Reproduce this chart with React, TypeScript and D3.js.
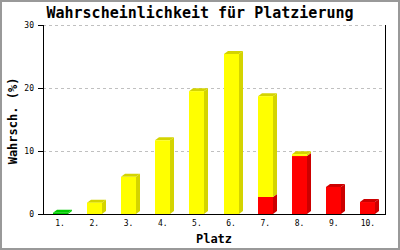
import React from "react";
import * as d3 from "d3";

const categories = ["1.", "2.", "3.", "4.", "5.", "6.", "7.", "8.", "9.", "10."];
const greenValues = [0.2, 0, 0, 0, 0, 0, 0, 0, 0, 0];
const redValues = [0, 0, 0, 0, 0, 0, 2.7, 9.2, 4.3, 1.9];
const yellowValues = [0, 1.8, 5.9, 11.7, 19.5, 25.4, 16.0, 0.3, 0, 0];
const yTicks = [0, 10, 20, 30];
const seriesKeys = ["green", "red", "yellow"];

const W = 400;
const H = 250;
const left = 43;
const right = 385;
const top = 25;
const bottom = 214;
const barW = 15;
const dx = 4;
const dy = 3;

const colors: Record<string, { front: string; side: string }> = {
  green: { front: "#00cc00", side: "#00cc00" },
  red: { front: "#ff0000", side: "#cc0000" },
  yellow: { front: "#ffff00", side: "#d4d400" },
};

const mono = "'DejaVu Sans Mono', 'Liberation Mono', monospace";

export default function App() {
  const x = d3.scaleBand<string>().domain(categories).range([left, right]).padding(0);
  const y = d3.scaleLinear().domain([0, 30]).range([bottom, top]);

  const rows = categories.map((c, i) => ({
    cat: c,
    green: greenValues[i],
    red: redValues[i],
    yellow: yellowValues[i],
  }));
  const stacked = d3.stack<any>().keys(seriesKeys)(rows);

  const bars: JSX.Element[] = [];
  categories.forEach((c, i) => {
    const cx = (x(c) as number) + x.bandwidth() / 2;
    const x0 = Math.round(cx - barW / 2);
    const segs = stacked
      .map((s) => ({ key: s.key, y0: s[i][0], y1: s[i][1] }))
      .filter((s) => s.y1 - s.y0 > 0);
    segs.forEach((s, j) => {
      const yt = y(s.y1);
      const yb = y(s.y0);
      const col = colors[s.key];
      const isTop = j === segs.length - 1;
      bars.push(
        <g key={`${c}-${s.key}`}>
          <polygon
            points={`${x0 + barW},${yt} ${x0 + barW + dx},${yt - dy} ${x0 + barW + dx},${yb - dy} ${x0 + barW},${yb}`}
            fill={col.side}
          />
          {isTop && (
            <polygon
              points={`${x0},${yt} ${x0 + dx},${yt - dy} ${x0 + barW + dx},${yt - dy} ${x0 + barW},${yt}`}
              fill={col.side}
            />
          )}
          <rect x={x0} y={yt} width={barW} height={yb - yt} fill={col.front} />
        </g>
      );
    });
  });

  return (
    <svg width={W} height={H} style={{ position: "absolute", left: 0, top: 0 }}>
      <rect x={0} y={0} width={W} height={H} fill="#ffffff" />
      <rect x={1} y={1} width={W - 2} height={H - 2} fill="none" stroke="#999999" strokeWidth={2} />
      <text x={200} y={18} textAnchor="middle" fontFamily={mono} fontWeight="bold" fontSize={15} fill="#000">
        Wahrscheinlichkeit für Platzierung
      </text>
      {yTicks.map((t) => (
        <g key={t}>
          {t > 0 && (
            <line x1={left} x2={right} y1={y(t) + 0.5} y2={y(t) + 0.5} stroke="#c0c0c0" strokeDasharray="3,3" />
          )}
          <line x1={left - 5} x2={left} y1={y(t) + 0.5} y2={y(t) + 0.5} stroke="#000" />
          <text x={34} y={y(t) + 3} textAnchor="end" fontFamily={mono} fontSize={8} fill="#000">
            {t}
          </text>
        </g>
      ))}
      {bars}
      <line x1={left + 0.5} x2={left + 0.5} y1={top} y2={bottom + 1} stroke="#000" />
      <line x1={right + 0.5} x2={right + 0.5} y1={top} y2={bottom + 1} stroke="#000" />
      <line x1={left} x2={right + 1} y1={bottom + 0.5} y2={bottom + 0.5} stroke="#000" />
      {categories.map((c) => (
        <text
          key={c}
          x={(x(c) as number) + x.bandwidth() / 2}
          y={226}
          textAnchor="middle"
          fontFamily={mono}
          fontSize={8}
          fill="#000"
        >
          {c}
        </text>
      ))}
      <text x={214} y={243} textAnchor="middle" fontFamily={mono} fontWeight="bold" fontSize={12} fill="#000">
        Platz
      </text>
      <text
        transform={`translate(17,121) rotate(-90)`}
        textAnchor="middle"
        fontFamily={mono}
        fontWeight="bold"
        fontSize={12}
        fill="#000"
      >
        Wahrsch. (%)
      </text>
    </svg>
  );
}
